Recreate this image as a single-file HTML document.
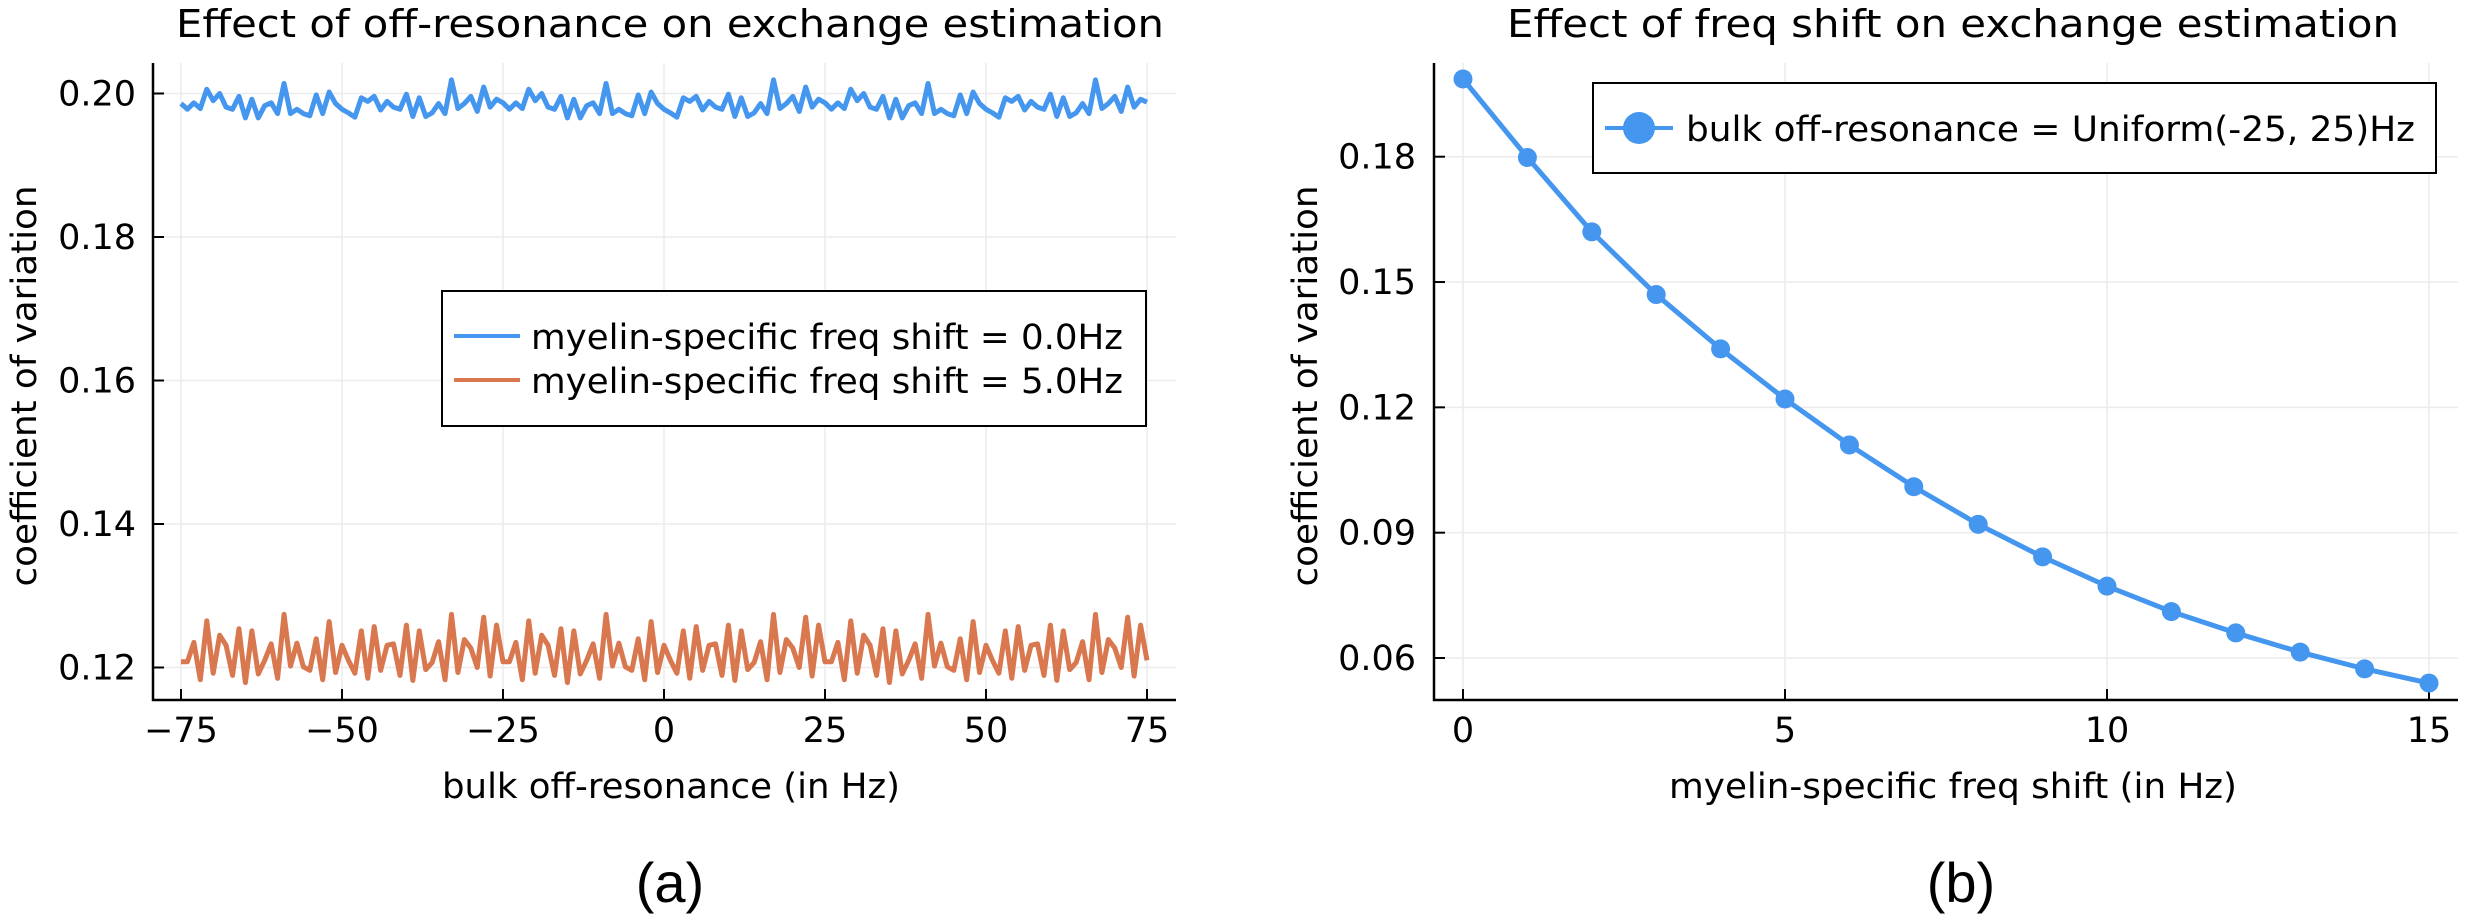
<!DOCTYPE html>
<html><head><meta charset="utf-8"><style>
html,body{margin:0;padding:0;background:#fff;}
svg{display:block;font-family:"DejaVu Sans","Liberation Sans",sans-serif;}
</style></head><body>
<svg id="fig" width="2482" height="916" viewBox="0 0 2482 916" xmlns="http://www.w3.org/2000/svg">
<rect width="2482" height="916" fill="#fff"/>
<g id="left"></g>
<g id="right"></g>
</svg>
<script>
const leftXTicks = [-75, -50, -25, 0, 25, 50, 75];
const leftXTickLabels = ["\u221275", "\u221250", "\u221225", "0", "25", "50", "75"];
const leftYTicks = [0.12, 0.14, 0.16, 0.18, 0.20];
const leftYTickLabels = ["0.12", "0.14", "0.16", "0.18", "0.20"];
const offRes = [];
for (let v = -75; v <= 75; v++) offRes.push(v);
const cv0 = [
0.1986,0.1978,0.1987,0.1979,0.2006,0.1990,0.2000,0.1981,0.1978,0.1996,0.1966,0.1992,0.1966,0.1983,0.1987,0.1972,0.2014,0.1972,0.1978,0.1972,0.1969,0.1998,0.1972,0.2002,0.1986,0.1978,0.1973,0.1967,0.1994,0.1989,0.1996,0.1977,0.1989,0.1981,0.1978,0.1999,0.1968,0.1994,0.1968,0.1973,0.1986,0.1972,0.2019,0.1979,0.1986,0.1996,0.1975,0.2009,0.1981,0.1992,
0.1987,0.1978,0.1987,0.1979,0.2006,0.1990,0.2000,0.1981,0.1978,0.1996,0.1966,0.1992,0.1966,0.1983,0.1987,0.1972,0.2014,0.1972,0.1978,0.1972,0.1969,0.1998,0.1972,0.2002,0.1986,0.1978,0.1973,0.1967,0.1994,0.1989,0.1996,0.1977,0.1989,0.1981,0.1978,0.1999,0.1968,0.1994,0.1968,0.1973,0.1986,0.1972,0.2019,0.1979,0.1986,0.1996,0.1975,0.2009,0.1981,0.1992,
0.1987,0.1978,0.1987,0.1979,0.2006,0.1990,0.2000,0.1981,0.1978,0.1996,0.1966,0.1992,0.1966,0.1983,0.1987,0.1972,0.2014,0.1972,0.1978,0.1972,0.1969,0.1998,0.1972,0.2002,0.1986,0.1978,0.1973,0.1967,0.1994,0.1989,0.1996,0.1977,0.1989,0.1981,0.1978,0.1999,0.1968,0.1994,0.1968,0.1973,0.1986,0.1972,0.2019,0.1979,0.1986,0.1996,0.1975,0.2009,0.1981,0.1992,
0.1988];
const cv5 = [
0.1208,0.1208,0.1235,0.1183,0.1265,0.1192,0.1245,0.1231,0.1189,0.1254,0.1179,0.1251,0.1191,0.1210,0.1233,0.1185,0.1274,0.1202,0.1234,0.1201,0.1196,0.1240,0.1183,0.1264,0.1193,0.1231,0.1210,0.1192,0.1251,0.1185,0.1257,0.1196,0.1231,0.1233,0.1189,0.1259,0.1182,0.1251,0.1197,0.1207,0.1236,0.1183,0.1274,0.1193,0.1239,0.1227,0.1200,0.1270,0.1188,0.1259,
0.1208,0.1208,0.1235,0.1183,0.1265,0.1192,0.1245,0.1231,0.1189,0.1254,0.1179,0.1251,0.1191,0.1210,0.1233,0.1185,0.1274,0.1202,0.1234,0.1201,0.1196,0.1240,0.1183,0.1264,0.1193,0.1231,0.1210,0.1192,0.1251,0.1185,0.1257,0.1196,0.1231,0.1233,0.1189,0.1259,0.1182,0.1251,0.1197,0.1207,0.1236,0.1183,0.1274,0.1193,0.1239,0.1227,0.1200,0.1270,0.1188,0.1259,
0.1208,0.1208,0.1235,0.1183,0.1265,0.1192,0.1245,0.1231,0.1189,0.1254,0.1179,0.1251,0.1191,0.1210,0.1233,0.1185,0.1274,0.1202,0.1234,0.1201,0.1196,0.1240,0.1183,0.1264,0.1193,0.1231,0.1210,0.1192,0.1251,0.1185,0.1257,0.1196,0.1231,0.1233,0.1189,0.1259,0.1182,0.1251,0.1197,0.1207,0.1236,0.1183,0.1274,0.1193,0.1239,0.1227,0.1200,0.1270,0.1188,0.1259,
0.1210];

const rightXTicks = [0, 5, 10, 15];
const rightXTickLabels = ["0", "5", "10", "15"];
const rightYTicks = [0.06, 0.09, 0.12, 0.15, 0.18];
const rightYTickLabels = ["0.06", "0.09", "0.12", "0.15", "0.18"];
const freqShift = [0,1,2,3,4,5,6,7,8,9,10,11,12,13,14,15];
const cvShift = [0.1986,0.1798,0.1620,0.1470,0.1340,0.1220,0.1110,0.1010,0.0920,0.0842,0.0772,0.0711,0.0660,0.0614,0.0574,0.0540];

const NS = "http://www.w3.org/2000/svg";
function mk(parent, tag, attrs, text) {
  const e = document.createElementNS(NS, tag);
  for (const k in attrs) e.setAttribute(k, attrs[k]);
  if (text !== undefined) e.textContent = text;
  parent.appendChild(e);
  return e;
}
const BLUE = "#4496ee", ORANGE = "#d9774f", GRID = "#ebebeb";

// ---------- LEFT ----------
(function () {
  const g = document.getElementById("left");
  const X0 = 153, X1 = 1176, Y0 = 63, Y1 = 700;
  const sx = v => 181 + (v + 75) / 150 * (1147 - 181);
  const sy = v => 667.5 - (v - 0.12) / 0.08 * (667.5 - 93.5);
  leftXTicks.forEach((t, i) => {
    const l = mk(g, "line", {x1: sx(t), x2: sx(t), y1: Y0, y2: Y1, stroke: GRID, "stroke-width": 1.5});
    
    
    const tk = mk(g, "line", {x1: sx(t), x2: sx(t), y1: Y1, y2: Y1 - 11, stroke: "#000", "stroke-width": 2});
    
    
    const tx = mk(g, "text", {x: sx(t), y: 742, "font-size": 35, "text-anchor": "middle"}, leftXTickLabels[i]);
    
    
  });
  leftYTicks.forEach((t, i) => {
    const l = mk(g, "line", {x1: X0, x2: X1, y1: sy(t), y2: sy(t), stroke: GRID, "stroke-width": 1.5});
    
    
    const tk = mk(g, "line", {x1: X0, x2: X0 + 11, y1: sy(t), y2: sy(t), stroke: "#000", "stroke-width": 2});
    
    
    const tx = mk(g, "text", {x: 136, y: sy(t) + 12, "font-size": 35, "text-anchor": "end"}, leftYTickLabels[i]);
    
    
  });
  const ax = mk(g, "path", {d: `M${X0} ${Y0} V${Y1} H${X1}`, fill: "none", stroke: "#000", "stroke-width": 2.5});
  
  
  const p0 = mk(g, "polyline", {points: offRes.map((x, i) => sx(x) + "," + sy(cv0[i])).join(" "), fill: "none", stroke: BLUE, "stroke-width": 5, "stroke-linejoin": "round"});
  
  
  const p5 = mk(g, "polyline", {points: offRes.map((x, i) => sx(x) + "," + sy(cv5[i])).join(" "), fill: "none", stroke: ORANGE, "stroke-width": 5, "stroke-linejoin": "round"});
  
  
  const lg = mk(g, "g", {});
  
  
  mk(lg, "rect", {x: 442, y: 291, width: 704, height: 135, fill: "#fff", stroke: "#000", "stroke-width": 2});
  mk(lg, "line", {x1: 454, x2: 520, y1: 336, y2: 336, stroke: BLUE, "stroke-width": 4});
  mk(lg, "line", {x1: 454, x2: 520, y1: 380, y2: 380, stroke: ORANGE, "stroke-width": 4});
  const e1 = mk(lg, "text", {x: 531, y: 349, "font-size": 35, textLength: 592, lengthAdjust: "spacingAndGlyphs"}, "myelin-specific freq shift = 0.0Hz");
  
  
  const e2 = mk(lg, "text", {x: 531, y: 393, "font-size": 35, textLength: 592, lengthAdjust: "spacingAndGlyphs"}, "myelin-specific freq shift = 5.0Hz");
  
  
  const t = mk(g, "text", {x: 670, y: 37, "font-size": 38, "text-anchor": "middle", textLength: 988, lengthAdjust: "spacingAndGlyphs"}, "Effect of off-resonance on exchange estimation");
  
  
  const xl = mk(g, "text", {x: 671, y: 798, "font-size": 35, "text-anchor": "middle", textLength: 458, lengthAdjust: "spacingAndGlyphs"}, "bulk off-resonance (in Hz)");
  
  
  const yl = mk(g, "text", {x: 0, y: 0, "font-size": 35, "text-anchor": "middle", transform: "translate(36,386) rotate(-90)", textLength: 401, lengthAdjust: "spacingAndGlyphs"}, "coefficient of variation");
  
  
  const cap = mk(g, "text", {x: 670, y: 902, "font-size": 56, "text-anchor": "middle", "font-family": "Liberation Sans, sans-serif"}, "(a)");
  
  
})();

// ---------- RIGHT ----------
(function () {
  const g = document.getElementById("right");
  const X0 = 1434, X1 = 2458, Y0 = 63, Y1 = 700;
  const sx = v => 1463 + v / 15 * (2429 - 1463);
  const sy = v => 658 - (v - 0.06) / 0.12 * (658 - 156.7);
  rightXTicks.forEach((t, i) => {
    const l = mk(g, "line", {x1: sx(t), x2: sx(t), y1: Y0, y2: Y1, stroke: GRID, "stroke-width": 1.5});
    
    
    const tk = mk(g, "line", {x1: sx(t), x2: sx(t), y1: Y1, y2: Y1 - 11, stroke: "#000", "stroke-width": 2});
    
    
    const tx = mk(g, "text", {x: sx(t), y: 742, "font-size": 35, "text-anchor": "middle"}, rightXTickLabels[i]);
    
    
  });
  rightYTicks.forEach((t, i) => {
    const l = mk(g, "line", {x1: X0, x2: X1, y1: sy(t), y2: sy(t), stroke: GRID, "stroke-width": 1.5});
    
    
    const tk = mk(g, "line", {x1: X0, x2: X0 + 11, y1: sy(t), y2: sy(t), stroke: "#000", "stroke-width": 2});
    
    
    const tx = mk(g, "text", {x: 1416, y: sy(t) + 12, "font-size": 35, "text-anchor": "end"}, rightYTickLabels[i]);
    
    
  });
  const ax = mk(g, "path", {d: `M${X0} ${Y0} V${Y1} H${X1}`, fill: "none", stroke: "#000", "stroke-width": 2.5});
  
  
  const pl = mk(g, "polyline", {points: freqShift.map((x, i) => sx(x) + "," + sy(cvShift[i])).join(" "), fill: "none", stroke: BLUE, "stroke-width": 5, "stroke-linejoin": "round"});
  
  
  freqShift.forEach((x, i) => {
    const c = mk(g, "circle", {cx: sx(x), cy: sy(cvShift[i]), r: 9.5, fill: BLUE});
    
    
  });
  const lg = mk(g, "g", {});
  
  
  mk(lg, "rect", {x: 1593, y: 83, width: 843, height: 90, fill: "#fff", stroke: "#000", "stroke-width": 2});
  mk(lg, "line", {x1: 1605, x2: 1673, y1: 128, y2: 128, stroke: BLUE, "stroke-width": 4});
  mk(lg, "circle", {cx: 1639, cy: 128, r: 16, fill: BLUE});
  const e = mk(lg, "text", {x: 1686, y: 141, "font-size": 35, textLength: 729, lengthAdjust: "spacingAndGlyphs"}, "bulk off-resonance = Uniform(-25, 25)Hz");
  
  
  const t = mk(g, "text", {x: 1953, y: 37, "font-size": 38, "text-anchor": "middle", textLength: 892, lengthAdjust: "spacingAndGlyphs"}, "Effect of freq shift on exchange estimation");
  
  
  const xl = mk(g, "text", {x: 1953, y: 798, "font-size": 35, "text-anchor": "middle", textLength: 568, lengthAdjust: "spacingAndGlyphs"}, "myelin-specific freq shift (in Hz)");
  
  
  const yl = mk(g, "text", {x: 0, y: 0, "font-size": 35, "text-anchor": "middle", transform: "translate(1317,386) rotate(-90)", textLength: 401, lengthAdjust: "spacingAndGlyphs"}, "coefficient of variation");
  
  
  const cap = mk(g, "text", {x: 1961, y: 902, "font-size": 56, "text-anchor": "middle", "font-family": "Liberation Sans, sans-serif"}, "(b)");
  
  
})();
</script>
</body></html>
